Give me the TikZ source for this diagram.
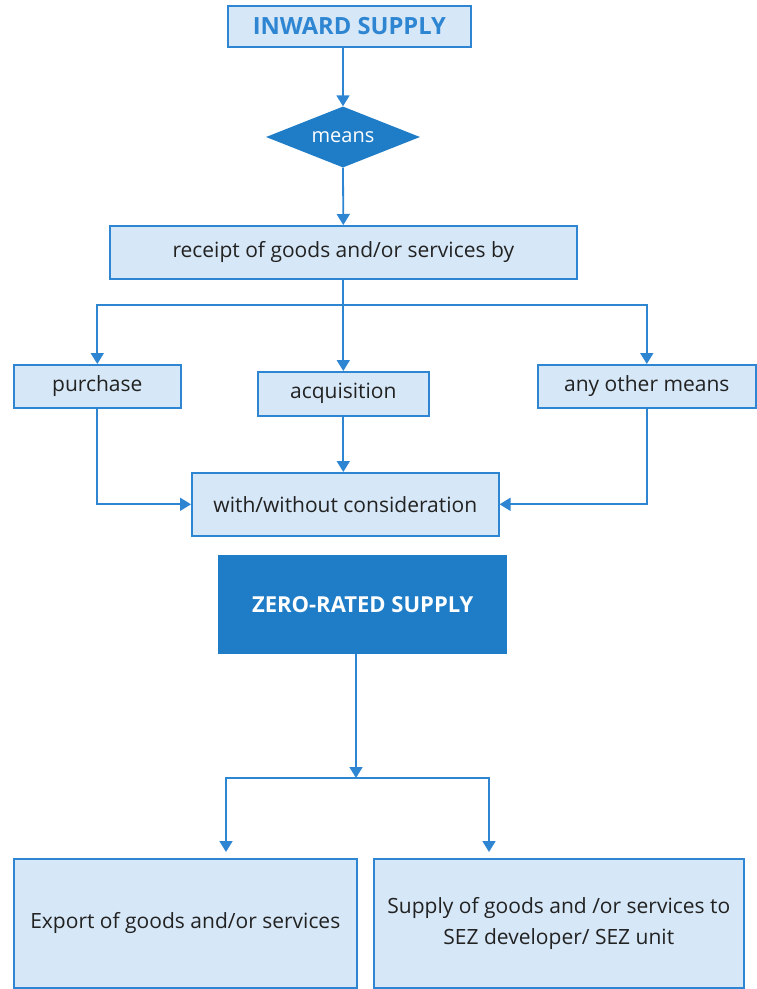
\documentclass[tikz,border=0pt]{standalone}
\usepackage{fontspec}
\setmainfont{Open Sans}
\usetikzlibrary{shapes.geometric,arrows.meta}

\definecolor{boxfill}{HTML}{D6E7F7}
\definecolor{boxline}{HTML}{2E86D2}
\definecolor{darkfill}{HTML}{1F7DC7}
\definecolor{txt}{HTML}{222222}

\tikzset{
  lightbox/.style={draw=boxline, line width=1.6pt, fill=boxfill, text=txt,
    inner sep=0pt, anchor=north west, align=center,
    font=\fontsize{21}{25}\selectfont},
  titlebox/.style={lightbox, text=boxline, font=\fontsize{23.7}{27}\selectfont\bfseries},
  darkbox/.style={fill=darkfill, text=white, inner sep=0pt, anchor=north west,
    font=\fontsize{22}{26}\selectfont\bfseries},
  decision/.style={diamond, aspect=2.5, fill=darkfill, text=white, inner sep=0pt,
    font=\fontsize{20}{24}\selectfont},
  flow/.style={draw=boxline, line width=1.8pt,
    -{Triangle[width=13pt,length=11pt]}}
}

\begin{document}
\begin{tikzpicture}[x=1pt, y=-1pt]
\useasboundingbox (0,0) rectangle (756,989);

% top chain
\node[titlebox, minimum width=243pt, minimum height=41pt] (inward) at (227,5) {INWARD SUPPLY};
\node[decision, minimum width=154pt, minimum height=61pt] (means) at (343,137) {means};
\node[lightbox, minimum width=467pt, minimum height=53pt] (receipt) at (109,225) {receipt of goods and/or services by};

% three ways of receipt
\node[lightbox, minimum width=167pt, minimum height=43pt] (purchase) at (13,364) {purchase};
\node[lightbox, minimum width=171pt, minimum height=44pt] (acq) at (257,371) {acquisition};
\node[lightbox, minimum width=218pt, minimum height=43pt] (other) at (537,364) {any other means};

\node[lightbox, minimum width=307pt, minimum height=63pt] (consid) at (191,472) {with/without consideration};

% zero-rated supply
\node[darkbox, minimum width=289pt, minimum height=99pt] (zero) at (218,555) {ZERO-RATED SUPPLY};

\node[lightbox, minimum width=343pt, minimum height=129pt] (export) at (13,858) {Export of goods and/or services};
\node[lightbox, minimum width=370pt, minimum height=129pt] (sez) at (373,858)
  {Supply of goods and /or services to\\[6pt]SEZ developer/ SEZ unit};

% connectors
\draw[flow] (means.north |- inward.south) -- (means.north);
\draw[flow] (means.south) -- (receipt.north);
\draw[flow] (receipt.south) -- (acq.north);
\coordinate (fork) at (342,305);
\draw[flow] (fork) -| (purchase.north);
\draw[flow] (fork) -| (other.north);
\draw[flow] (acq.south) -- (acq.south |- consid.north);
\draw[flow] (purchase.south) |- (consid.west);
\draw[flow] (other.south) |- (consid.east);

\coordinate (split) at (356,778);
\coordinate (lefttip) at (226,852);
\coordinate (righttip) at (489,852);
\draw[flow] (split |- zero.south) -- (split);
\draw[flow] (split) -| (lefttip);
\draw[flow] (split) -| (righttip);
\end{tikzpicture}
\end{document}
